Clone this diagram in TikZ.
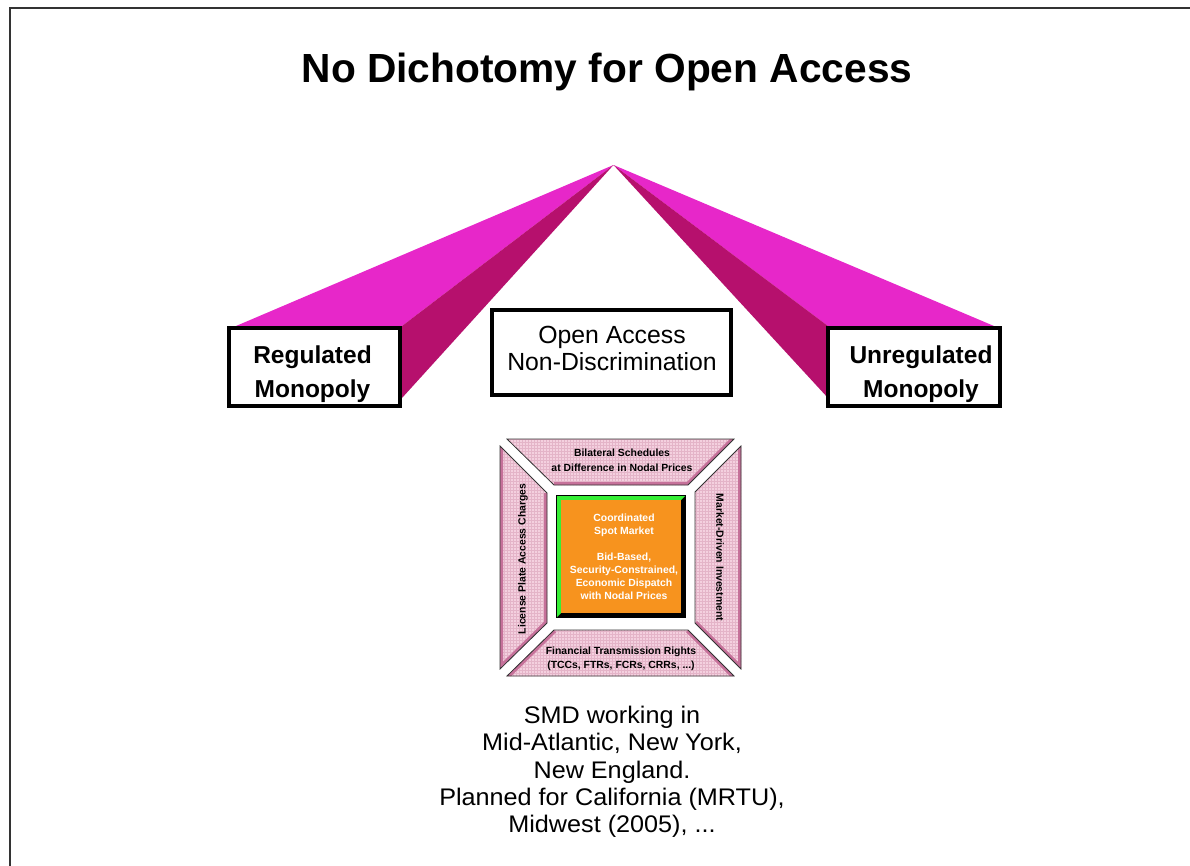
\documentclass[tikz,border=0pt]{standalone}
\usepackage{fontspec}
\setmainfont{Liberation Sans}
\newfontfamily\smdfont[FakeStretch=1.05]{Liberation Sans}
\usetikzlibrary{patterns}
\definecolor{magL}{HTML}{E727C9}
\definecolor{magD}{HTML}{B6106D}
\definecolor{pinkF}{HTML}{F4D0DF}
\definecolor{pinkG}{HTML}{E4B4C8}
\definecolor{mauve}{HTML}{C6719A}
\definecolor{orangeF}{HTML}{F7931E}
\definecolor{greenB}{HTML}{36EE36}
\definecolor{frameC}{HTML}{333333}
\begin{document}
\begin{tikzpicture}[x=1pt,y=-1pt,
  bigbox/.style={draw=black,line width=4pt,fill=white,inner sep=0pt},
  boldlbl/.style={inner sep=0pt,align=center,font=\fontsize{24.5}{33.4}\selectfont\bfseries},
  plainlbl/.style={inner sep=0pt,align=center,font=\fontsize{24.8}{27.5}\selectfont},
  smalllbl/.style={inner sep=0pt,align=center,text=black,font=\fontsize{10.4}{14.5}\selectfont\bfseries},
  orangelbl/.style={inner sep=0pt,align=center,text=white,font=\fontsize{10.4}{13}\selectfont\bfseries},
  trapfill/.style={fill=pinkF,postaction={pattern=grid,pattern color=pinkG}},
  trapline/.style={draw=frameC,line width=0.8pt},
  bevel/.style={draw=mauve,line width=6pt},
]
\useasboundingbox (0,0) rectangle (1190,865);
% slide frame
\draw[frameC,line width=1.3pt] (10,866) -- (10,8) -- (1191,8);
% title
\node[anchor=base,inner sep=0pt,font=\fontsize{40.7}{48}\selectfont\bfseries] (title) at (607,82) {No Dichotomy for Open Access};
% pyramids
\coordinate (apex) at (613.5,165);
\fill[magL] (apex) -- (236,326) -- (402,326) -- cycle;
\fill[magD] (apex) -- (402,326) -- (402,398) -- cycle;
\fill[magL] (apex) -- (828,326) -- (994,326) -- cycle;
\fill[magD] (apex) -- (828,326) -- (828,398) -- cycle;
% boxes
\node[bigbox,minimum width=171,minimum height=78] (regbox) at (314.5,367) {};
\node[boldlbl] (reg) at (312.5,374.2) {Regulated\\Monopoly};
\node[bigbox,minimum width=239,minimum height=85] (oabox) at (611.5,352.5) {};
\node[plainlbl] (oa) at (612,348.5) {Open Access\\Non-Discrimination};
\node[bigbox,minimum width=172,minimum height=78] (unregbox) at (914,367) {};
\node[boldlbl] (unreg) at (921,374.2) {Unregulated\\Monopoly};
% frame square: trapezoids
% top
\fill[trapfill] (507,439) -- (734,439) -- (688,485) -- (554,485) -- cycle;
\begin{scope}
\clip (507,439) -- (734,439) -- (688,485) -- (554,485) -- cycle;
\draw[bevel] (554,485) -- (688,485) -- (734,439);
\end{scope}
\draw[trapline] (507,439) -- (734,439) -- (688,485) -- (554,485) -- cycle;
% left
\fill[trapfill] (500,446) -- (547,493) -- (547,623) -- (500,669) -- cycle;
\begin{scope}
\clip (500,446) -- (547,493) -- (547,623) -- (500,669) -- cycle;
\draw[bevel] (547,493) -- (547,623) -- (500,669) -- (500,446);
\end{scope}
\draw[trapline] (500,446) -- (547,493) -- (547,623) -- (500,669) -- cycle;
% right
\fill[trapfill] (741,446) -- (741,669) -- (695,623) -- (695,492) -- cycle;
\begin{scope}
\clip (741,446) -- (741,669) -- (695,623) -- (695,492) -- cycle;
\draw[bevel] (741,446) -- (741,669) -- (695,623);
\end{scope}
\draw[trapline] (741,446) -- (741,669) -- (695,623) -- (695,492) -- cycle;
% bottom
\fill[trapfill] (507,676) -- (554,630) -- (688,630) -- (734,676) -- cycle;
\begin{scope}
\clip (507,676) -- (554,630) -- (688,630) -- (734,676) -- cycle;
\draw[bevel] (507,676) -- (554,630);
\draw[bevel] (688,630) -- (734,676);
\end{scope}
\draw[trapline] (507,676) -- (554,630) -- (688,630) -- (734,676) -- cycle;
% central orange box
\fill[black] (556,495) rectangle (686,618);
\fill[greenB] (557,496) -- (685,496) -- (681,500) -- (561,500) -- (561,613) -- (557,617) -- cycle;
\fill[orangeF] (561,500) rectangle (681,613);
\node[orangelbl] (spot) at (624,557) {Coordinated\\Spot Market\\[13pt]Bid-Based,\\Security-Constrained,\\Economic Dispatch\\with Nodal Prices};
% trapezoid labels
\node[smalllbl] (bilat) at (622,460.5) {Bilateral Schedules\\at Difference in Nodal Prices};
\node[smalllbl] (ftr) at (621,659) {Financial Transmission Rights\\(TCCs, FTRs, FCRs, CRRs, ...)};
\node[smalllbl,rotate=90] (lpac) at (523,559) {License Plate Access Charges};
\node[smalllbl,rotate=-90] (mdi) at (720,557.5) {Market-Driven Investment};
% bottom text
\node[inner sep=0pt,align=center,font=\smdfont\fontsize{24}{27.3}\selectfont] (smd) at (612,772) {SMD working in\\Mid-Atlantic, New York,\\New England.\\Planned for California (MRTU),\\Midwest (2005), ...};
\end{tikzpicture}
\end{document}
